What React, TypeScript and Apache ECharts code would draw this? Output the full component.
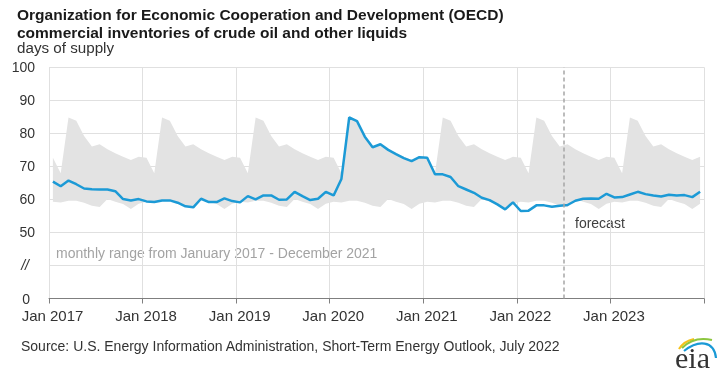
import React, { useEffect, useRef } from "react";
import * as echarts from "echarts";

// Monthly range Jan 2017 - Dec 2021 (days of supply), Jan..Dec
const bandHigh = [72.6, 67.9, 84.8, 83.8, 79.2, 76.0, 76.7, 75.2, 74.0, 72.9, 71.9, 72.9];
const bandLow = [59.3, 59.1, 59.6, 59.6, 59.0, 58.1, 57.7, 60.1, 59.3, 58.6, 57.1, 58.7];

const years = [2017, 2018, 2019, 2020, 2021, 2022, 2023];

// OECD commercial inventories, days of supply, Jan..Dec of each year
const inv2017 = [65.4, 64.0, 65.7, 64.6, 63.3, 63.1, 63.0, 63.0, 62.5, 60.1, 59.7, 60.1];
const inv2018 = [59.4, 59.2, 59.7, 59.7, 59.0, 57.9, 57.6, 60.2, 59.2, 59.2, 60.3, 59.5];
const inv2019 = [59.1, 61.0, 60.0, 61.2, 61.2, 59.9, 60.0, 62.3, 61.0, 59.8, 60.2, 62.3];
const inv2020 = [61.2, 66.2, 84.8, 83.7, 79.0, 75.8, 76.7, 75.0, 73.7, 72.5, 71.6, 72.8];
const inv2021 = [72.6, 67.6, 67.6, 66.8, 64.0, 63.0, 62.0, 60.5, 59.8, 58.5, 57.0, 59.1];
const inv2022 = [56.5, 56.6, 58.2, 58.2, 57.8, 58.1, 58.3, 59.6, 60.2, 60.3, 60.2, 61.7];
const inv2023 = [60.6, 60.7, 61.5, 62.3, 61.6, 61.2, 60.9, 61.4, 61.2, 61.3, 60.7, 62.3];

const forecastStartMonth = 66; // July 2022 (months since Jan 2017)
const yTickLabels: Record<number, string> = { 30: "0", 40: "//", 50: "50", 60: "60", 70: "70", 80: "80", 90: "90", 100: "100" };

const FONT = "'Liberation Sans', Arial, sans-serif";

export default function App() {
  const ref = useRef<HTMLDivElement>(null);
  useEffect(() => {
    if (!ref.current) return;
    const chart = echarts.init(ref.current, undefined, { renderer: "svg" });
    const inventory = [inv2017, inv2018, inv2019, inv2020, inv2021, inv2022, inv2023].flat();
    // monthly points plotted at mid-month
    const lineData = inventory.map((v, i) => [i + 0.5, v]);
    const bandData: number[][] = [];
    years.forEach((_, y) => {
      bandLow.forEach((lo, m) => {
        const i = y * 12 + m;
        bandData.push([i + 0.5, lo, bandHigh[m]]);
      });
    });

    chart.setOption({
      animation: false,
      textStyle: { fontFamily: FONT },
      title: [
        {
          text: "Organization for Economic Cooperation and Development (OECD)\ncommercial inventories of crude oil and other liquids",
          left: 17,
          top: 5,
          padding: 0,
          textStyle: { fontSize: 15.5, fontWeight: "bold", color: "#1a1a1a", lineHeight: 18, fontFamily: FONT },
        },
        {
          text: "days of supply",
          left: 17,
          top: 40,
          padding: 0,
          textStyle: { fontSize: 15.2, fontWeight: "normal", color: "#333", fontFamily: FONT },
        },
        {
          text: "Source: U.S. Energy Information Administration, Short-Term Energy Outlook, July 2022",
          left: 21,
          top: 339,
          padding: 0,
          textStyle: { fontSize: 14, fontWeight: "normal", color: "#333", fontFamily: FONT },
        },
      ],
      grid: { left: 49, right: 16, top: 67.3, bottom: 78.5, containLabel: false },
      xAxis: {
        type: "value",
        min: 0,
        max: 84,
        interval: 12,
        axisLine: { show: true, lineStyle: { color: "#7f7f7f", width: 1 } },
        axisTick: { show: true, length: 5, lineStyle: { color: "#7f7f7f" } },
        axisLabel: {
          color: "#333",
          fontSize: 15,
          margin: 9,
          padding: [0, 0, 0, 7],
          fontFamily: FONT,
          formatter: (v: number) => (v < 84 ? "Jan " + years[v / 12] : ""),
        },
        splitLine: { show: true, lineStyle: { color: "#e0e0e0", width: 1 } },
      },
      yAxis: {
        type: "value",
        min: 30,
        max: 100,
        interval: 10,
        axisLine: { show: false },
        axisTick: { show: false },
        axisLabel: {
          color: "#333",
          fontSize: 14,
          margin: 14,
          fontFamily: FONT,
          formatter: (v: number) => {
            const t = yTickLabels[v] ?? "";
            if (v === 30) return "{z|" + t + "}";
            if (v === 40) return "{s|" + t + "}";
            return t;
          },
          rich: {
            z: { fontSize: 14, color: "#333", padding: [0, 5, 0, 0], fontFamily: FONT },
            s: { fontSize: 14, color: "#333", padding: [0, 6, 0, 0], fontStyle: "italic", fontFamily: FONT },
          },
        },
        splitLine: { show: true, lineStyle: { color: "#e0e0e0", width: 1 } },
      },
      series: [
        {
          name: "monthly range",
          type: "custom",
          silent: true,
          z: 1,
          data: bandData,
          encode: { x: 0, y: [1, 2] },
          renderItem: (params: any, api: any) => {
            if (params.dataIndex !== 0) return null;
            const upper = bandData.map((d) => api.coord([d[0], d[2]]));
            const lower = bandData.map((d) => api.coord([d[0], d[1]])).reverse();
            return {
              type: "polygon",
              shape: { points: upper.concat(lower) },
              style: { fill: "#e3e3e3", stroke: "none" },
            };
          },
        },
        {
          name: "inventories",
          type: "line",
          data: lineData,
          symbol: "none",
          lineStyle: { color: "#1c9ad6", width: 2.5 },
          z: 3,
          markLine: {
            silent: true,
            symbol: "none",
            label: { show: false },
            lineStyle: { color: "#a6a6a6", type: [4, 3], width: 1.5 },
            data: [{ xAxis: forecastStartMonth }],
          },
        },
      ],
      graphic: [
        {
          type: "text",
          left: 56,
          top: 246,
          style: { text: "monthly range from January 2017 - December 2021", font: "14px " + FONT, fill: "#a3a3a3" },
        },
        {
          type: "text",
          left: 575,
          top: 216,
          style: { text: "forecast", font: "14px " + FONT, fill: "#404040" },
        },
        {
          type: "group",
          x: 670,
          y: 332,
          children: [
            {
              type: "text",
              x: 5,
              y: 10,
              style: { text: "eia", font: "30px 'Liberation Serif', 'DejaVu Serif', serif", fill: "#333" },
            },
            {
              type: "bezierCurve",
              shape: { x1: 9, y1: 17, cpx1: 14, cpy1: 9, x2: 24, y2: 7 },
              style: { stroke: "#f5c21b", lineWidth: 2.2, fill: "none" },
            },
            {
              type: "bezierCurve",
              shape: { x1: 12, y1: 16, cpx1: 24, cpy1: 4, x2: 42, y2: 8 },
              style: { stroke: "#8cc63f", lineWidth: 2.2, fill: "none" },
            },
            {
              type: "bezierCurve",
              shape: { x1: 14, y1: 19, cpx1: 28, cpy1: 8, cpx2: 44, cpy2: 8, x2: 46, y2: 26 },
              style: { stroke: "#1a9ad6", lineWidth: 2.2, fill: "none" },
            },
          ],
        },
      ],
    });
    return () => chart.dispose();
  }, []);
  return <div ref={ref} style={{ position: "fixed", left: 0, top: 0, width: 720, height: 377 }} />;
}
